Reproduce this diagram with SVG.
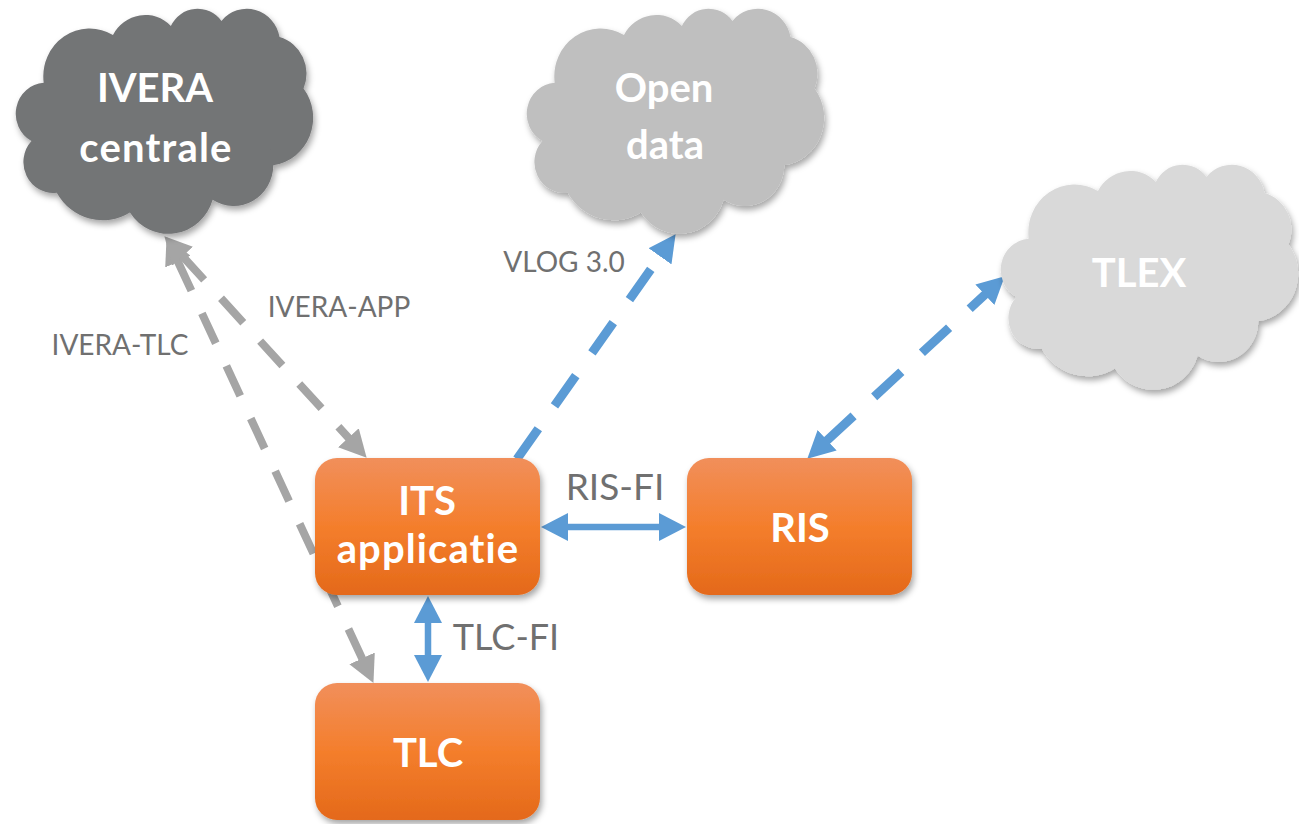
<svg xmlns="http://www.w3.org/2000/svg" width="1299" height="824" viewBox="0 0 1299 824">
<style>
.bt{font-family:Lato,"Liberation Sans",sans-serif;font-weight:700;fill:#fff;text-anchor:middle;font-size:40px}
.lb{font-family:Lato,"Liberation Sans",sans-serif;fill:#707070;text-anchor:middle}
.box{fill:url(#og)}
.co{vector-effect:non-scaling-stroke;stroke-width:1.5}
.ci{fill:none;vector-effect:non-scaling-stroke;stroke-width:1.5}
.gd{fill:none;stroke:#a5a5a5;stroke-width:8;stroke-dasharray:33 25;marker-start:url(#ag);marker-end:url(#ag)}
.bd{fill:none;stroke:#5b9bd5;stroke-width:9;stroke-dasharray:37 28}
.bs{fill:none;stroke:#5b9bd5;stroke-width:6.5;marker-start:url(#ab);marker-end:url(#ab)}
</style>
<defs>
<linearGradient id="og" x1="0" y1="0" x2="0" y2="1">
<stop offset="0" stop-color="#F18F5B"/>
<stop offset="0.5" stop-color="#F47E2C"/>
<stop offset="1" stop-color="#E4691A"/>
</linearGradient>
<filter id="sh" x="-10%" y="-10%" width="130%" height="130%">
<feDropShadow dx="2" dy="4" stdDeviation="3" flood-color="#000" flood-opacity="0.35"/>
</filter>
<marker id="ag" markerUnits="userSpaceOnUse" markerWidth="27" markerHeight="28" viewBox="0 0 27 28" refX="1" refY="14" orient="auto-start-reverse">
<path d="M0,0 L27,14 L0,28 Z" fill="#a5a5a5"/>
</marker>
<marker id="ab" markerUnits="userSpaceOnUse" markerWidth="27" markerHeight="28" viewBox="0 0 27 28" refX="1" refY="14" orient="auto-start-reverse">
<path d="M0,0 L27,14 L0,28 Z" fill="#5b9bd5"/>
</marker>
<path id="cloud" d="M3900,14370 A6753,9190 0 0 1 14005,5203 A5333,7267 0 0 1 22458,3435 A4365,5945 0 0 1 29835,2483 A4857,6595 0 0 1 38319,5580 A5333,7273 0 0 1 41819,15464 A6775,9220 0 0 1 37405,30206 A5785,7867 0 0 1 28556,36816 A6752,9215 0 0 1 16480,39266 A7720,10543 0 0 1 5803,35469 A4360,5918 0 0 1 2112,25547 A4345,5945 0 0 1 3900,14370 Z"/>
<path id="cloudin" d="M4693,26177 A4345,5945 0 0 1 2112,25547 M6928,34899 A4360,5918 0 0 1 5803,35469 M16478,39090 A6752,9215 0 0 1 15813,37528 M28827,34751 A6752,9215 0 0 1 28556,36816 M34129,22954 A5785,7867 0 0 1 37405,30206 M41798,15354 A5333,7273 0 0 1 40372,18139 M38324,5426 A4857,6595 0 0 1 38396,6844 M29078,3952 A4857,6595 0 0 1 29835,2483 M22141,4720 A4365,5945 0 0 1 22458,3435 M14000,5192 A6753,9190 0 0 1 15306,6553 M4127,15789 A6753,9190 0 0 1 3900,14370"/>
</defs>

<g id="connectors">
<path id="ivera-tlc" class="gd" d="M177.5,260.7 L362.5,659.3"/>
<path id="ivera-app" class="gd" d="M181.9,255.5 L349.1,438.5"/>
<path id="vlog" class="bd" d="M517,459 L660.6,255.5" marker-end="url(#ab)"/>
<path id="tlex-link" class="bd" d="M826.4,441 L985.6,294" marker-start="url(#ab)" marker-end="url(#ab)"/>
<path id="ris-fi" class="bs" d="M567,527 L660,527"/>
<path id="tlc-fi" class="bs" d="M428,622 L428,656"/>
<text class="lb" x="339" y="317" font-size="28">IVERA-APP</text>
<text class="lb" x="120" y="355" font-size="28">IVERA-TLC</text>
<text class="lb" x="564" y="272" font-size="28">VLOG 3.0</text>
<text class="lb" x="615" y="500" font-size="37">RIS-FI</text>
<text class="lb" x="506" y="650" font-size="36">TLC-FI</text>
</g>

<g id="ivera">
<g filter="url(#sh)">
<g transform="translate(17,8) scale(0.0068519,0.0052083)">
<use href="#cloud" class="co" fill="#737476" stroke="#68696b"/>
<use href="#cloudin" class="ci" stroke="#68696b"/>
</g>
</g>
<text class="bt" x="155" y="102">IVERA</text>
<text class="bt" x="156" y="162" letter-spacing="1.2">centrale</text>
</g>

<g id="opendata">
<g filter="url(#sh)">
<g transform="translate(528,8) scale(0.0068519,0.0052083)">
<use href="#cloud" class="co" fill="#bfbfbf" stroke="#aaaaaa"/>
<use href="#cloudin" class="ci" stroke="#aaaaaa"/>
</g>
</g>
<text class="bt" x="664" y="102">Open</text>
<text class="bt" x="665" y="159">data</text>
</g>

<g id="tlex">
<g filter="url(#sh)">
<g transform="translate(1002,164) scale(0.0068519,0.0052083)">
<use href="#cloud" class="co" fill="#d9d9d9" stroke="#bdbdbd"/>
<use href="#cloudin" class="ci" stroke="#bdbdbd"/>
</g>
</g>
<text class="bt" x="1139" y="287">TLEX</text>
</g>

<g id="its">
<rect class="box" x="315" y="458" width="225" height="137" rx="22" filter="url(#sh)"/>
<text class="bt" x="427" y="515" font-size="41">ITS</text>
<text class="bt" x="428" y="563" letter-spacing="1.1">applicatie</text>
</g>

<g id="ris">
<rect class="box" x="687" y="458" width="225" height="137" rx="22" filter="url(#sh)"/>
<text class="bt" x="800" y="542">RIS</text>
</g>

<g id="tlc">
<rect class="box" x="315" y="683" width="225" height="137" rx="22" filter="url(#sh)"/>
<text class="bt" x="428" y="767">TLC</text>
</g>
</svg>
